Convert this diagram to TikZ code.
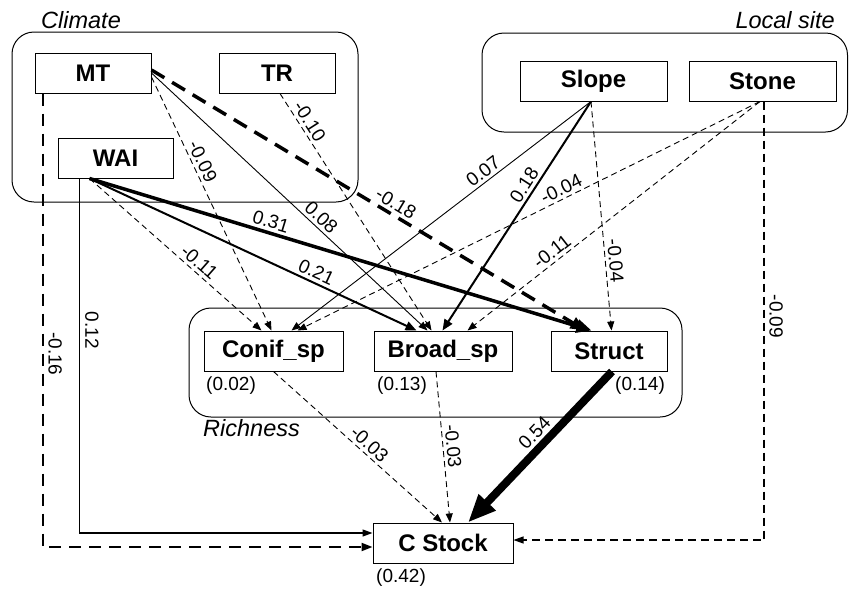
\documentclass[tikz,border=0pt]{standalone}
\usepackage{fontspec}
\setmainfont{Liberation Sans}
\usetikzlibrary{arrows.meta}
\tikzset{
  box/.style={draw, line width=1pt, minimum height=40pt, inner sep=0pt, font=\fontsize{24}{28}\selectfont\bfseries},
  grp/.style={draw, line width=1pt, rounded corners=22pt, inner sep=0pt},
  glab/.style={font=\fontsize{23.5}{28}\selectfont\itshape, inner sep=0pt},
  elab/.style={font=\fontsize{19}{22}\selectfont, inner sep=3pt},
  vlab/.style={font=\fontsize{19}{22}\selectfont, inner sep=5pt, rotate=-90, anchor=south},
  r2lab/.style={font=\fontsize{19}{22}\selectfont, inner sep=1pt, anchor=west},
  lnthin/.style={line width=0.9pt, -{Triangle[length=9pt,width=7pt]}},
  lnvert/.style={line width=1.3pt, -{Triangle[length=10pt,width=7pt]}},
  lndash/.style={line width=0.9pt, dash pattern=on 6pt off 4pt, -{Triangle[length=9pt,width=7pt]}},
  lnstone/.style={line width=1.1pt, dash pattern=on 8pt off 5pt, -{Triangle[length=10pt,width=7pt]}},
  lnmed/.style={line width=2pt, -{Triangle[length=11pt,width=9pt]}},
  lnmeddash/.style={line width=2pt, dash pattern=on 12pt off 8pt, -{Triangle[length=11pt,width=8pt]}},
  lnthick/.style={line width=3.5pt, -{Triangle[length=15pt,width=13pt]}},
  lnthickdash/.style={line width=3.5pt, dash pattern=on 15pt off 9pt, -{Triangle[length=15pt,width=12pt]}},
  lnhuge/.style={line width=8pt, -{Triangle[length=28pt,width=22pt]}}
}
\begin{document}
\begin{tikzpicture}[x=1pt, y=-1pt]
\useasboundingbox (0,0) rectangle (849,592);
% groups
\node[grp, minimum width=346pt, minimum height=170pt] (climate) at (185,117) {};
\node[grp, minimum width=365.5pt, minimum height=99pt] (local) at (664.75,82.5) {};
\node[grp, minimum width=493pt, minimum height=109pt] (rich) at (435.5,362.5) {};
\node[glab, anchor=base west] (lclim) at (41,28) {Climate};
\node[glab, anchor=base east] (lloc) at (835,28) {Local site};
\node[glab, anchor=base west] (lrich) at (203,436) {Richness};
% variables
\node[box, minimum width=116pt] (MT) at (93,73) {MT};
\node[box, minimum width=116pt] (TR) at (277,73) {TR};
\node[box, minimum width=115pt] (WAI) at (115.5,158) {WAI};
\node[box, minimum width=147pt] (Slope) at (593.5,81) {Slope};
\node[box, minimum width=147pt] (Stone) at (762.5,81) {Stone};
\node[box, minimum width=139pt] (Conif) at (273.5,351) {Conif\_sp};
\node[box, minimum width=138pt] (Broad) at (443,351) {Broad\_sp};
\node[box, minimum width=116pt] (Struct) at (609,351) {Struct};
\node[box, minimum width=140pt] (CStock) at (443,543) {C Stock};
% R2
\node[r2lab] (r2a) at (205,386) {(0.02)};
\node[r2lab] (r2b) at (376,386) {(0.13)};
\node[r2lab] (r2c) at (614,386) {(0.14)};
\node[r2lab] (r2d) at (375,578) {(0.42)};
% MT
\draw[lndash] ([yshift=-4pt]MT.east) -- node[elab,pos=.35,sloped,above]{-0.09} ([xshift=68pt]Conif.north west);
\draw[lnthin] (MT.east) -- node[elab,pos=.59,sloped,above]{0.08} ([xshift=54pt]Broad.north west);
\draw[lnthickdash] ([yshift=3pt]MT.east) -- node[elab,pos=.55,sloped,above]{-0.18} ([xshift=35pt]Struct.north west);
\draw[lnmeddash] ([xshift=8pt]MT.south west) |- node[vlab,pos=.287]{-0.16} ([yshift=-4pt]CStock.west);
% TR
\draw[lndash] ([xshift=3pt]TR.south) -- node[elab,pos=.14,sloped,above]{-0.10} ([xshift=58pt]Broad.north west);
% WAI
\draw[lndash] ([xshift=32pt]WAI.south west) -- node[elab,pos=.6,sloped,above]{-0.11} ([xshift=58pt]Conif.north west);
\draw[lnmed] ([xshift=32pt]WAI.south west) -- node[elab,pos=.68,sloped,above]{0.21} ([xshift=43pt]Broad.north west);
\draw[lnthick] ([xshift=32pt]WAI.south west) -- node[elab,pos=.355,sloped,above]{0.31} ([xshift=41pt]Struct.north west);
\draw[lnvert] ([xshift=22pt]WAI.south west) |- node[vlab,pos=.214]{0.12} ([yshift=10pt]CStock.west);
% Slope
\draw[lnthin] ([xshift=-2.5pt]Slope.south) -- node[elab,pos=.34,sloped,above]{0.07} ([xshift=88pt]Conif.north west);
\draw[lnmed] ([xshift=-2.5pt]Slope.south) -- node[elab,pos=.39,sloped,above]{0.18} ([xshift=69pt]Broad.north west);
\draw[lndash] ([xshift=-2.5pt]Slope.south) -- node[elab,pos=.7,sloped,above]{-0.04} ([xshift=61pt]Struct.north west);
% Stone
\draw[lndash] ([xshift=-2.5pt]Stone.south) -- node[elab,pos=.42,sloped,above]{-0.04} ([xshift=94pt]Conif.north west);
\draw[lndash] ([xshift=-2.5pt]Stone.south) -- node[elab,pos=.69,sloped,above]{-0.11} ([xshift=94pt]Broad.north west);
\draw[lnstone] ([xshift=1.5pt]Stone.south) |- node[vlab,pos=.245]{-0.09} ([yshift=3pt]CStock.east);
% Richness to C stock
\draw[lndash] (Conif.south) -- node[elab,pos=.53,sloped,above]{-0.03} ([xshift=-1pt]CStock.north);
\draw[lndash] ([xshift=-7pt]Broad.south) -- node[elab,pos=.5,sloped,above]{-0.03} ([xshift=7pt]CStock.north);
\draw[lnhuge] ([xshift=3pt]Struct.south) -- node[elab,pos=.47,sloped,above]{0.54} ([xshift=25pt]CStock.north);
\end{tikzpicture}
\end{document}
